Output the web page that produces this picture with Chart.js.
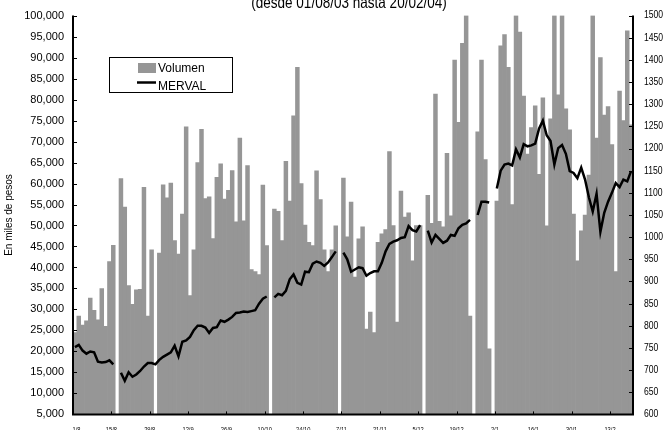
<!DOCTYPE html>
<html>
<head>
<meta charset="utf-8">
<script src="https://cdn.jsdelivr.net/npm/chart.js@4.4.1/dist/chart.umd.min.js"></script>
<style>
  html, body { margin: 0; padding: 0; background: #fff; }
  #wrap { width: 671px; height: 430px; }
</style>
</head>
<body>
<div id="wrap"><canvas id="volChart" width="671" height="430"></canvas></div>
<script>
// trading days 01/08/03 - 20/02/04 (weekdays)
const dates = [
  '1/8',
  '4/8','5/8','6/8','7/8','8/8','11/8','12/8','13/8','14/8','15/8',
  '18/8','19/8','20/8','21/8','22/8','25/8','26/8','27/8','28/8','29/8',
  '1/9','2/9','3/9','4/9','5/9','8/9','9/9','10/9','11/9','12/9',
  '15/9','16/9','17/9','18/9','19/9','22/9','23/9','24/9','25/9','26/9',
  '29/9','30/9','1/10','2/10','3/10','6/10','7/10','8/10','9/10','10/10',
  '13/10','14/10','15/10','16/10','17/10','20/10','21/10','22/10','23/10','24/10',
  '27/10','28/10','29/10','30/10','31/10','3/11','4/11','5/11','6/11','7/11',
  '10/11','11/11','12/11','13/11','14/11','17/11','18/11','19/11','20/11','21/11',
  '24/11','25/11','26/11','27/11','28/11','1/12','2/12','3/12','4/12','5/12',
  '8/12','9/12','10/12','11/12','12/12','15/12','16/12','17/12','18/12','19/12',
  '22/12','23/12','24/12','25/12','26/12','29/12','30/12','31/12','1/1','2/1',
  '5/1','6/1','7/1','8/1','9/1','12/1','13/1','14/1','15/1','16/1',
  '19/1','20/1','21/1','22/1','23/1','26/1','27/1','28/1','29/1','30/1',
  '2/2','3/2','4/2','5/2','6/2','9/2','10/2','11/2','12/2','13/2',
  '16/2','17/2','18/2','19/2','20/2'
];

const tickLabels = ['1/8','15/8','29/8','12/9','26/9','10/10','24/10','7/11','21/11','5/12','19/12','2/1','16/1','30/1','13/2'];
const mervalTicks = [600, 650, 700, 750, 800, 850, 900, 950, 1000, 1050, 1100, 1150, 1200, 1250, 1300, 1350, 1400, 1450, 1500];

// volumen, en miles de pesos (null = sin rueda)
const volumen = [
  24500,
  28400, 26300, 27300, 32700, 29800, 27500, 35000, 26000, 41400, 45300,
  null, 61200, 54400, 35700, 31200, 34700, 34800, 59100, 28400, 44200,
  null, 43400, 59700, 56600, 60100, 46400, 43200, 52700, 73500, 33300,
  44200, 65000, 72900, 56400, 56800, 46900, 61500, 64700, 56300, 58400,
  63100, 50900, 70800, 51100, 64300, 39500, 39000, 38300, 59600, 45200,
  null, 53900, 53400, 46400, 65300, 55800, 76100, 87700, 60000, 50100,
  46000, 45200, 63000, 56200, 44200, 39000, 44200, 49900, null, 61300,
  47300, 55600, 37700, 46800, 49700, 25300, 29400, 24500, 46000, 48000,
  49000, 67600, 50000, 27000, 58200, 52000, 53000, 41600, 50000, 50000,
  null, 57200, 50500, 81300, 51000, 49700, 67200, 52300, 89400, 74600,
  93400, 100000, 28400, null, 72300, 89400, 65700, 20600, null, 55800,
  92800, 95500, 87700, 55000, 100000, 96100, 80800, 67000, 73300, 78500,
  62200, 80400, 49900, 75400, 100000, 81100, 100000, 77800, 72800, 52700,
  41600, 48700, 52500, 62000, 100000, 70800, 90000, 76300, 78300, 69300,
  39000, 82000, 75000, 96400, 74000
];

const merval = [
  752,
  757, 744, 737, 742, 740, 719, 717, 718, 722, 713,
  null, 694, 676, 695, 685, 690, 698, 708, 716, 716,
  713, 723, 730, 735, 740, 755, 731, 764, 767, 775,
  790, 800, 800, 796, 784, 795, 797, 812, 809, 814,
  820, 829, 830, 832, 831, 833, 835, 850, 861, 866,
  null, 864, 872, 869, 879, 905, 916, 897, 893, 922,
  921, 940, 945, 942, 935, 943, 955, 968, null, 965,
  950, 922, 927, 932, 930, 913, 919, 923, 923, 942,
  968, 985, 990, 993, 998, 1000, 1025, 1016, 1013, 1027,
  null, 1015, 988, 1005, 996, 987, 992, 1005, 1003, 1020,
  1028, 1031, 1039, null, 1050, 1080, 1080, 1078, null, 1110,
  1150, 1164, 1166, 1162, 1198, 1180, 1210, 1205, 1207, 1211,
  1245, 1263, 1230, 1217, 1164, 1201, 1208, 1188, 1149, 1145,
  1133, 1157, 1130, 1090, 1058, 1098, 1012, 1055, 1080, 1100,
  1122, 1113, 1130, 1126, 1149
];

const GREY = '#969696';
const SANS = "'Liberation Sans', Arial, sans-serif";

// narrow-looking text: regular face squeezed horizontally
function narrowText(ctx, text, x, y, size, align, baseline) {
    ctx.save();
    ctx.translate(x, y);
    ctx.scale(0.82, 1);
    ctx.font = size + 'px ' + SANS;
    ctx.textAlign = align;
    ctx.textBaseline = baseline;
    ctx.fillText(text, 0, 0);
    ctx.restore();
}

// axes lines, inward tick marks, labels, title, legend box
const decor = {
    id: 'decor',
    afterDraw(chart) {
        const ctx = chart.ctx;
        const { left, right, top, bottom } = chart.chartArea;
        const yL = chart.scales.y, yR = chart.scales.y1;
        const catW = (right - left) / dates.length;

        ctx.save();
        ctx.strokeStyle = '#000';
        ctx.fillStyle = '#000';
        ctx.lineWidth = 1;
        ctx.beginPath();
        for (let v = 5000; v <= 100000; v += 5000) {
            const y = Math.round(yL.getPixelForValue(v)) + 0.5;
            ctx.moveTo(left, y); ctx.lineTo(left + 4, y);
        }
        mervalTicks.forEach(v => {
            const y = Math.round(yR.getPixelForValue(v)) + 0.5;
            ctx.moveTo(right - 4, y); ctx.lineTo(right, y);
        });
        for (let k = 10; k < dates.length; k += 10) {
            const x = Math.round(left + k * catW) + 0.5;
            ctx.moveTo(x, bottom); ctx.lineTo(x, bottom - 3);
        }
        ctx.stroke();

        ctx.lineWidth = 2;
        ctx.beginPath();
        ctx.moveTo(left, top); ctx.lineTo(left, bottom);
        ctx.lineTo(right, bottom); ctx.lineTo(right, top);
        ctx.stroke();

        // right axis labels
        mervalTicks.forEach(v => {
            narrowText(ctx, String(v), right + 11, yR.getPixelForValue(v), 10.5, 'left', 'middle');
        });

        // category labels, every 10 days (mostly below the frame)
        tickLabels.forEach((t, k) => {
            const x = k === 0 ? left + 3.5 : left + k * 10 * catW;
            narrowText(ctx, t, x, 431.5, 7, 'center', 'alphabetic');
        });

        // title (top half cut by the frame)
        narrowText(ctx, '(desde 01/08/03 hasta 20/02/04)', 349, 7.5, 16.5, 'center', 'alphabetic');

        // y axis title
        ctx.save();
        ctx.translate(9, 215);
        ctx.rotate(-Math.PI / 2);
        ctx.font = '10px ' + SANS;
        ctx.textAlign = 'center';
        ctx.textBaseline = 'middle';
        ctx.fillText('En miles de pesos', 0, 0);
        ctx.restore();

        // legend
        ctx.fillStyle = '#fff';
        ctx.fillRect(109, 57, 124, 36);
        ctx.lineWidth = 1;
        ctx.strokeRect(109.5, 57.5, 123, 35);
        ctx.fillStyle = GREY;
        ctx.fillRect(138, 63, 18, 10);
        ctx.lineWidth = 2.5;
        ctx.beginPath();
        ctx.moveTo(137, 82.5); ctx.lineTo(156, 82.5);
        ctx.stroke();
        ctx.fillStyle = '#000';
        ctx.font = '12px ' + SANS;
        ctx.textAlign = 'left';
        ctx.textBaseline = 'middle';
        ctx.fillText('Volumen', 158, 69);
        ctx.fillText('MERVAL', 158, 87);
        ctx.restore();
    }
};

new Chart(document.getElementById('volChart'), {
    data: {
        labels: dates,
        datasets: [
            {
                type: 'line',
                label: 'MERVAL',
                data: merval,
                yAxisID: 'y1',
                borderColor: '#000',
                borderWidth: 2.5,
                pointRadius: 0,
                tension: 0,
                spanGaps: false,
                order: 0
            },
            {
                type: 'bar',
                label: 'Volumen',
                data: volumen,
                yAxisID: 'y',
                backgroundColor: GREY,
                barPercentage: 1,
                categoryPercentage: 1,
                order: 1
            }
        ]
    },
    options: {
        responsive: false,
        animation: false,
        devicePixelRatio: 1,
        layout: { padding: { top: 13, left: 0, right: 0, bottom: 0 } },
        plugins: {
            legend: { display: false },
            tooltip: { enabled: false }
        },
        scales: {
            x: {
                grid: { display: false, drawTicks: false },
                border: { display: false },
                ticks: { display: false },
                afterFit: s => { s.height = 15; }
            },
            y: {
                position: 'left',
                min: 5000,
                max: 100000,
                grid: { display: false, drawTicks: false },
                border: { display: false },
                ticks: {
                    stepSize: 5000,
                    padding: 9,
                    color: '#000',
                    font: { family: SANS, size: 11 },
                    callback: v => v.toLocaleString('en-US')
                },
                afterFit: s => { s.width = 73; }
            },
            y1: {
                position: 'right',
                min: 600,
                max: 1500,
                grid: { display: false, drawTicks: false },
                border: { display: false },
                ticks: { display: false, stepSize: 50 },
                afterFit: s => { s.width = 38; }
            }
        }
    },
    plugins: [decor]
});
</script>
</body>
</html>
